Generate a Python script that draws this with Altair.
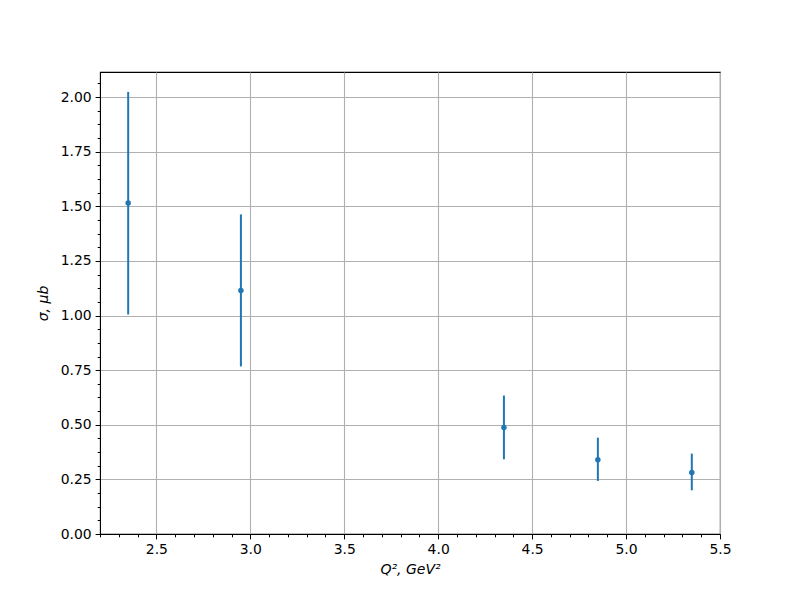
import altair as alt
import pandas as pd

# data
q2 = [2.35, 2.95, 4.35, 4.85, 5.35]
sigma = [1.515, 1.115, 0.488, 0.340, 0.282]
sigma_lo = [1.005, 0.767, 0.342, 0.243, 0.200]
sigma_hi = [2.024, 1.463, 0.634, 0.441, 0.368]

x_ticks = [2.2, 2.3, 2.4, 2.5, 2.6, 2.7, 2.8, 2.9, 3.0, 3.1, 3.2, 3.3, 3.4, 3.5,
           3.6, 3.7, 3.8, 3.9, 4.0, 4.1, 4.2, 4.3, 4.4, 4.5, 4.6, 4.7, 4.8, 4.9,
           5.0, 5.1, 5.2, 5.3, 5.4, 5.5]
y_ticks = [0.0, 0.0625, 0.125, 0.1875, 0.25, 0.3125, 0.375, 0.4375, 0.5,
           0.5625, 0.625, 0.6875, 0.75, 0.8125, 0.875, 0.9375, 1.0, 1.0625,
           1.125, 1.1875, 1.25, 1.3125, 1.375, 1.4375, 1.5, 1.5625, 1.625,
           1.6875, 1.75, 1.8125, 1.875, 1.9375, 2.0, 2.0625]

df = pd.DataFrame({"q2": q2, "sigma": sigma, "lo": sigma_lo, "hi": sigma_hi})

color = "#1f77b4"
font = "DejaVu Sans"

x_major = "abs(datum.value*2 - round(datum.value*2)) < 0.001"
y_major = "abs(datum.value*4 - round(datum.value*4)) < 0.001"

x_axis = alt.Axis(
    values=x_ticks,
    tickCount=200,
    labelExpr=f"({x_major}) ? format(datum.value, '.1f') : ''",
    tickSize={"condition": {"test": x_major, "value": 4.9}, "value": 2.8},
    gridOpacity={"condition": {"test": x_major, "value": 1}, "value": 0},
    title="Q², GeV²",
    titleFont=font, titleFontStyle="italic", titleFontWeight="normal",
    titleFontSize=14, titleColor="black", titlePadding=6,
    labelFont=font, labelFontSize=13.9, labelColor="black", labelPadding=4,
    labelFlush=False, labelOverlap=False,
    domainColor="black", tickColor="black", tickWidth=1,
    gridColor="#b0b0b0", gridWidth=1.1,
)
y_axis = alt.Axis(
    values=y_ticks,
    tickCount=200,
    labelExpr=f"({y_major}) ? format(datum.value, '.2f') : ''",
    tickSize={"condition": {"test": y_major, "value": 4.9}, "value": 2.8},
    gridOpacity={"condition": {"test": y_major, "value": 1}, "value": 0},
    title="σ, μb",
    titleFont=font, titleFontStyle="italic", titleFontWeight="normal",
    titleFontSize=14, titleColor="black", titlePadding=10,
    labelFont=font, labelFontSize=13.9, labelColor="black", labelPadding=4,
    labelFlush=False, labelOverlap=False,
    domainColor="black", tickColor="black", tickWidth=1,
    gridColor="#b0b0b0", gridWidth=1.1,
)

xs = alt.Scale(domain=[2.2, 5.5001], zero=False, nice=False)
ys = alt.Scale(domain=[0, 2.115], zero=False, nice=False)

bars = alt.Chart(df).mark_rule(color=color, strokeWidth=2).encode(
    x=alt.X("q2:Q", scale=xs, axis=x_axis),
    y=alt.Y("lo:Q", scale=ys, axis=y_axis),
    y2="hi:Q",
)
pts = alt.Chart(df).mark_circle(color=color, size=30, opacity=1).encode(
    x=alt.X("q2:Q", scale=xs),
    y=alt.Y("sigma:Q", scale=ys),
)

chart = alt.layer(bars, pts).properties(
    width=620, height=462,
    autosize=alt.AutoSizeParams(type="none"),
    padding={"left": 92, "top": 64, "right": 72, "bottom": 58},
    background="white",
).configure_view(stroke="black", strokeWidth=1.1)

chart.save("out.html", embed_options={"renderer": "svg", "actions": False})
